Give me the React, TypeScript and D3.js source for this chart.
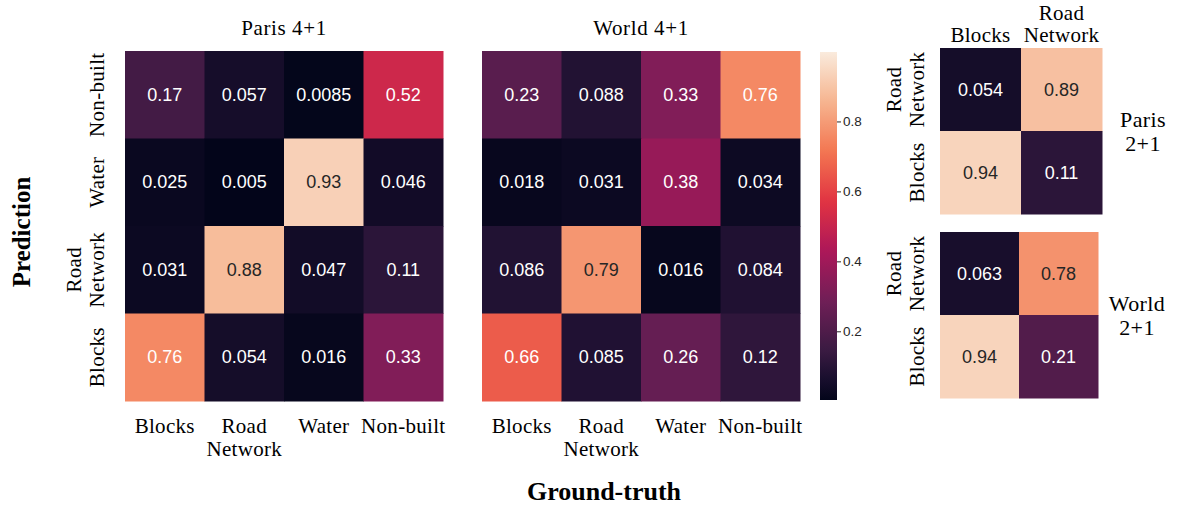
import React from "react";
import * as d3 from "d3";

// ---------- data ----------
const classes4 = ["Blocks", "Road\nNetwork", "Water", "Non-built"];
const rows4 = ["Non-built", "Water", "Road\nNetwork", "Blocks"];
const classes2 = ["Blocks", "Road\nNetwork"];
const rows2 = ["Road\nNetwork", "Blocks"];

const paris4 = [
  [0.17, 0.057, 0.0085, 0.52],
  [0.025, 0.005, 0.93, 0.046],
  [0.031, 0.88, 0.047, 0.11],
  [0.76, 0.054, 0.016, 0.33],
];
const world4 = [
  [0.23, 0.088, 0.33, 0.76],
  [0.018, 0.031, 0.38, 0.034],
  [0.086, 0.79, 0.016, 0.084],
  [0.66, 0.085, 0.26, 0.12],
];
const paris2 = [
  [0.054, 0.89],
  [0.94, 0.11],
];
const world2 = [
  [0.063, 0.78],
  [0.94, 0.21],
];
const colorbarTicks = [0.2, 0.4, 0.6, 0.8];
const vMin = 0.005;
const vMax = 1.0;

// ---------- colour ----------
const rocketStops = [
  "#03051a", "#1c1030", "#3a1a42", "#701f57", "#ad1759",
  "#e13342", "#f37651", "#f6b48f", "#faebdd",
];
const rocketPos = [0, 0.07, 0.143, 0.286, 0.429, 0.571, 0.714, 0.857, 1];
const rocket = d3
  .scaleLinear<string>()
  .domain(rocketPos)
  .range(rocketStops)
  .interpolate(d3.interpolateRgb);
const color = (v: number) => rocket((v - vMin) / (vMax - vMin));
const fmt = d3.format(".2~g");

const SERIF = "'Liberation Serif', 'Times New Roman', serif";
const SANS = "'Liberation Sans', Arial, sans-serif";
const DARK = "#262626";
const LBL = 21;

type HMProps = {
  data: number[][];
  rows: string[];
  cols: string[];
  x0: number; x1: number; y0: number; y1: number;
  bottomLabels?: boolean;
  topLabels?: boolean;
  yLabels?: boolean;
  yLabelX?: number;
};

function Heatmap({ data, rows, cols, x0, x1, y0, y1, bottomLabels, topLabels, yLabels, yLabelX = 0 }: HMProps) {
  const x = d3.scaleBand<number>().domain(d3.range(cols.length)).range([x0, x1]);
  const y = d3.scaleBand<number>().domain(d3.range(rows.length)).range([y0, y1]);
  const lh = 23;
  const lhTop = 22;
  return (
    <g>
      {data.map((row, i) =>
        row.map((v, j) => (
          <g key={`${i}-${j}`}>
            <rect
              x={x(j)!}
              y={y(i)!}
              width={x.bandwidth() + 0.5}
              height={y.bandwidth() + 0.5}
              fill={color(v)}
            />
            <text
              x={x(j)! + x.bandwidth() / 2}
              y={y(i)! + y.bandwidth() / 2}
              textAnchor="middle"
              dominantBaseline="central"
              fontFamily={SANS}
              fontSize={18}
              fill={v > 0.77 ? DARK : "#ffffff"}
            >
              {fmt(v)}
            </text>
          </g>
        ))
      )}
      {bottomLabels &&
        cols.map((c, j) => (
          <text
            key={"b" + j}
            x={x(j)! + x.bandwidth() / 2}
            y={y1 + 32}
            textAnchor="middle"
            fontFamily={SERIF}
            fontSize={LBL}
            letterSpacing={0.3}
            fill="#000"
          >
            {c.split("\n").map((l, k) => (
              <tspan key={k} x={x(j)! + x.bandwidth() / 2} dy={k === 0 ? 0 : lh}>
                {l}
              </tspan>
            ))}
          </text>
        ))}
      {topLabels &&
        cols.map((c, j) => {
          const lines = c.split("\n");
          return (
            <text
              key={"t" + j}
              x={x(j)! + x.bandwidth() / 2}
              y={y0 - 6 - (lines.length - 1) * lhTop}
              textAnchor="middle"
              fontFamily={SERIF}
              fontSize={LBL}
              letterSpacing={0.3}
              fill="#000"
            >
              {lines.map((l, k) => (
                <tspan key={k} x={x(j)! + x.bandwidth() / 2} dy={k === 0 ? 0 : lhTop}>
                  {l}
                </tspan>
              ))}
            </text>
          );
        })}
      {yLabels &&
        rows.map((r, i) => {
          const lines = r.split("\n");
          const cy = y(i)! + y.bandwidth() / 2;
          return (
            <text
              key={"y" + i}
              transform={`translate(${yLabelX},${cy}) rotate(-90)`}
              textAnchor="middle"
              fontFamily={SERIF}
              fontSize={LBL}
              letterSpacing={0.3}
              fill="#000"
            >
              {lines.map((l, k) => (
                <tspan key={k} x={0} y={(k - (lines.length - 1)) * lh}>
                  {l}
                </tspan>
              ))}
            </text>
          );
        })}
    </g>
  );
}

function Colorbar({ x0, x1, y0, y1 }: { x0: number; x1: number; y0: number; y1: number }) {
  const s = d3.scaleLinear().domain([vMin, vMax]).range([y1, y0]);
  const stops = d3.range(0, 1.0001, 0.02);
  return (
    <g>
      <defs>
        <linearGradient id="cbgrad" x1="0" y1="1" x2="0" y2="0">
          {stops.map((t, i) => (
            <stop key={i} offset={t} stopColor={rocket(t)} />
          ))}
        </linearGradient>
      </defs>
      <rect x={x0} y={y0} width={x1 - x0} height={y1 - y0} fill="url(#cbgrad)" />
      {colorbarTicks.map((t) => (
        <g key={t}>
          <line x1={x1} x2={x1 + 4} y1={s(t)} y2={s(t)} stroke={DARK} strokeWidth={1} />
          <text
            x={x1 + 6}
            y={s(t)}
            dominantBaseline="central"
            fontFamily={SANS}
            fontSize={13.5}
            fill={DARK}
          >
            {t.toFixed(1)}
          </text>
        </g>
      ))}
    </g>
  );
}

export default function App() {
  return (
    <svg
      width={1179}
      height={506}
      style={{ position: "absolute", left: 0, top: 0, background: "#fff" }}
    >
      <rect width={1179} height={506} fill="#fff" />
      {/* titles */}
      <text x={284} y={35} textAnchor="middle" fontFamily={SERIF} fontSize={21} letterSpacing={0.6}>
        Paris 4+1
      </text>
      <text x={641} y={35} textAnchor="middle" fontFamily={SERIF} fontSize={21} letterSpacing={0.6}>
        World 4+1
      </text>

      <Heatmap data={paris4} rows={rows4} cols={classes4} x0={125} x1={443} y0={51} y1={401} bottomLabels yLabels yLabelX={104} />
      <Heatmap data={world4} rows={rows4} cols={classes4} x0={482} x1={800} y0={51} y1={401} bottomLabels />
      <Colorbar x0={820} x1={837} y0={52} y1={400} />

      <Heatmap data={paris2} rows={rows2} cols={classes2} x0={940} x1={1102} y0={48} y1={214} topLabels yLabels yLabelX={924} />
      <Heatmap data={world2} rows={rows2} cols={classes2} x0={940} x1={1098} y0={232} y1={398} yLabels yLabelX={924} />

      <text textAnchor="middle" fontFamily={SERIF} fontSize={22} letterSpacing={0.4}>
        <tspan x={1143} y={127}>Paris</tspan>
        <tspan x={1143} y={151}>2+1</tspan>
      </text>
      <text textAnchor="middle" fontFamily={SERIF} fontSize={22} letterSpacing={0.4}>
        <tspan x={1137} y={311}>World</tspan>
        <tspan x={1137} y={335}>2+1</tspan>
      </text>

      <text
        transform="translate(30,232) rotate(-90)"
        textAnchor="middle"
        fontFamily={SERIF}
        fontWeight="bold"
        fontSize={25}
      >
        Prediction
      </text>
      <text x={604} y={500} textAnchor="middle" fontFamily={SERIF} fontWeight="bold" fontSize={26}>
        Ground-truth
      </text>
    </svg>
  );
}
